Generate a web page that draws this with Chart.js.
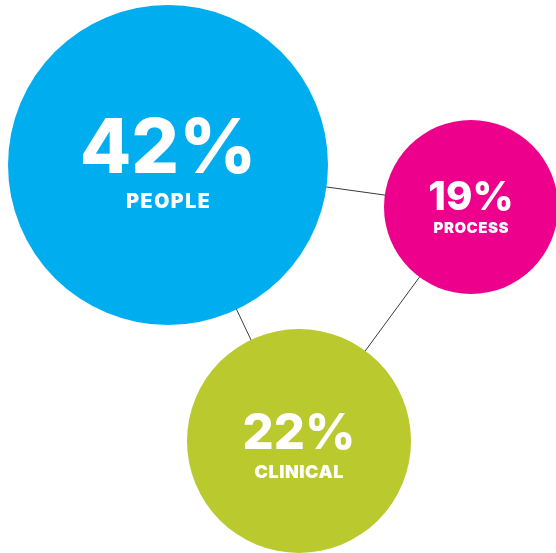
<!DOCTYPE html>
<html lang="en">
<head>
<meta charset="UTF-8" />
<title>share by area</title>
<script src="https://cdn.jsdelivr.net/npm/chart.js"></script>
<style>
  body, html {
    margin: 0; padding: 0;
    background: #ffffff;
  }
  #bubbles { display: block; }
</style>
</head>
<body>
<canvas id="bubbles" width="556" height="553"></canvas>

<script>
  // data
  const categories = ['PEOPLE', 'PROCESS', 'CLINICAL'];
  const shares = [42, 19, 22];

  // layout (pixels on the 556x553 canvas)
  const centerX = [168, 471, 299];
  const centerY = [165, 207, 441];
  const radius = [160, 87, 112];
  const colors = ['#00aeef', '#ec008c', '#bac92e'];
  const numberSize = [75, 40, 49];
  const numberBase = [8, 3, 8];      // baseline offset from bubble centre
  const labelSize = [19.5, 15, 18];
  const labelBase = [43, 26, 37];
  const labelSpacing = [1.6, 0.5, 0.5];

  const points = categories.map((c, i) => ({ x: centerX[i], y: centerY[i], r: radius[i] }));
  // connectors: people -> process -> clinical -> people
  const links = [0, 1, 2, 0].map(i => ({ x: centerX[i], y: centerY[i] }));

  // the bubbles are allowed to run off the canvas edge, so no inset for them
  Chart.BubbleController.prototype.getMaxOverflow = function () { return 0; };

  const labelPlugin = {
    id: 'bubbleLabels',
    afterDatasetsDraw(chart) {
      const ctx = chart.ctx;
      const meta = chart.getDatasetMeta(1);
      ctx.save();
      ctx.fillStyle = '#ffffff';
      ctx.textAlign = 'center';
      ctx.textBaseline = 'alphabetic';
      meta.data.forEach((el, i) => {
        ctx.letterSpacing = '0px';
        ctx.font = '800 ' + numberSize[i] + 'px Inter, "DejaVu Sans", sans-serif';
        ctx.fillText(shares[i] + '%', el.x, el.y + numberBase[i]);
        ctx.letterSpacing = labelSpacing[i] + 'px';
        ctx.font = '900 ' + labelSize[i] + 'px Inter, "DejaVu Sans", sans-serif';
        ctx.fillText(categories[i], el.x + labelSpacing[i] / 2, el.y + labelBase[i]);
      });
      ctx.restore();
    }
  };

  new Chart(document.getElementById('bubbles'), {
    type: 'bubble',
    data: {
      datasets: [
        {
          type: 'line',
          data: links,
          borderColor: '#3a3a3a',
          borderWidth: 1,
          pointRadius: 0,
          fill: false,
          order: 2
        },
        {
          data: points,
          backgroundColor: colors,
          borderWidth: 0,
          hoverBorderWidth: 0,
          order: 1
        }
      ]
    },
    options: {
      responsive: false,
      animation: false,
      layout: { padding: 0 },
      plugins: { legend: { display: false }, tooltip: { enabled: false } },
      scales: {
        x: { type: 'linear', min: 0, max: 556, display: false },
        y: { type: 'linear', min: 0, max: 553, reverse: true, display: false }
      },
      clip: false
    },
    plugins: [labelPlugin]
  });
</script>
</body>
</html>
